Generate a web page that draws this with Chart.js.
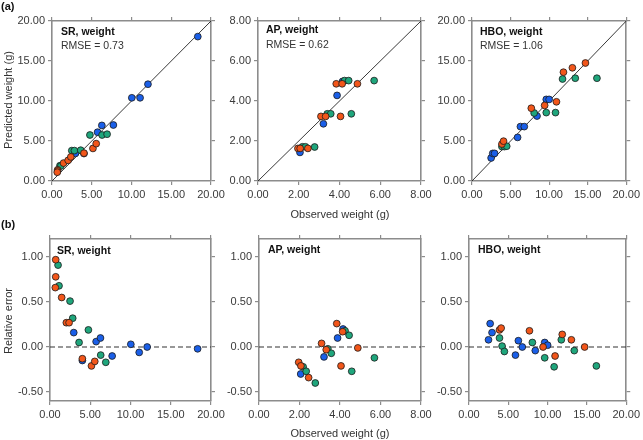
<!DOCTYPE html>
<html>
<head>
<meta charset="utf-8">
<script src="https://cdn.jsdelivr.net/npm/chart.js@4"></script>
<style>
  html, body { margin:0; padding:0; background:#fff; }
  #wrap { position:relative; width:643px; height:440px; overflow:hidden; font-family:"Liberation Sans", Arial, sans-serif; color:#333; }
  canvas { position:absolute; left:0; top:0; }
  .t { position:absolute; white-space:nowrap; line-height:1; }
  .b { font-weight:bold; color:#111; }
</style>
</head>
<body>
<div id="wrap"></div>
<script>
// ---------------- DATA ----------------
// SR panel
const srBlueObs   = [2.95, 4.02, 5.73, 6.27, 7.72, 10.04, 11.08, 12.07, 18.34];
const srBluePred  = [3.45, 3.43, 6.10, 6.95, 7.00, 10.40, 10.40, 12.10, 18.05];
const srBlueErr   = [0.16, -0.15, 0.06, 0.10, -0.10, 0.03, -0.06, 0.00, -0.02];
const srGreenObs  = [1.00, 1.12, 2.49, 2.82, 3.61, 4.77, 6.30, 6.93];
const srGreenPred = [1.91, 1.88, 3.80, 3.80, 3.85, 5.75, 5.75, 5.85];
const srGreenErr  = [0.91, 0.68, 0.51, 0.32, 0.05, 0.19, -0.09, -0.17];
const srOrangeObs = [0.71, 0.71, 0.66, 1.45, 2.03, 2.37, 4.02, 5.15, 5.56];
const srOrangePred= [1.40, 1.26, 1.10, 2.24, 2.58, 3.01, 3.48, 4.07, 4.67];
const srOrangeErr = [0.97, 0.78, 0.66, 0.55, 0.27, 0.27, -0.13, -0.21, -0.16];

// AP panel
const apBlueObs   = [2.06, 3.21, 3.88, 4.15];
const apBluePred  = [1.43, 2.86, 4.28, 4.98];
const apBlueErr   = [-0.30, -0.11, 0.10, 0.20];
const apGreenObs  = [2.18, 2.33, 2.78, 3.40, 3.57, 4.58, 4.25, 4.45, 5.70];
const apGreenPred = [1.71, 1.71, 1.70, 3.36, 3.36, 3.36, 5.02, 5.02, 5.02];
const apGreenErr  = [-0.22, -0.27, -0.40, -0.02, -0.07, -0.27, 0.18, 0.13, -0.12];
const apOrangeObs = [1.96, 2.07, 2.45, 3.09, 3.32, 4.05, 3.84, 4.13, 4.88];
const apOrangePred= [1.63, 1.63, 1.63, 3.23, 3.23, 3.23, 4.86, 4.86, 4.86];
const apOrangeErr = [-0.17, -0.21, -0.34, 0.04, -0.03, -0.21, 0.26, 0.17, -0.01];

// HBO panel
const hboBlueObs   = [2.48, 2.69, 2.93, 5.91, 6.28, 6.78, 8.43, 9.63, 10.00];
const hboBluePred  = [2.88, 3.45, 3.45, 5.45, 6.80, 6.80, 8.12, 10.20, 10.20];
const hboBlueErr   = [0.08, 0.26, 0.16, -0.09, 0.07, 0.00, -0.04, 0.05, 0.02];
const hboGreenObs  = [3.88, 4.21, 4.50, 8.06, 9.63, 10.83, 11.74, 13.39, 16.20];
const hboGreenPred = [4.30, 4.30, 4.35, 8.50, 8.55, 8.55, 12.75, 12.85, 12.85];
const hboGreenErr  = [0.10, 0.01, -0.05, 0.05, -0.12, -0.22, 0.08, -0.04, -0.21];
const hboOrangeObs = [3.88, 4.09, 7.69, 9.42, 10.95, 11.86, 13.02, 14.71];
const hboOrangePred= [4.62, 4.98, 9.10, 9.45, 9.90, 13.60, 14.15, 14.75];
const hboOrangeErr = [0.19, 0.21, 0.18, 0.00, -0.10, 0.14, 0.08, 0.00];

// Tick labels / axis ranges
const ticks20  = [0, 5, 10, 15, 20];
const ticks8   = [0, 2, 4, 6, 8];
const ticksErr = [-0.5, 0, 0.5, 1.0];
const errRange = [-0.6, 1.2];

const panelTitles = ["SR, weight", "AP, weight", "HBO, weight"];
const rmseLabels  = ["RMSE = 0.73", "RMSE = 0.62", "RMSE = 1.06"];

// ---------------- STYLE ----------------
const COL_BLUE = "#1a5fe8", COL_GREEN = "#1fa67c", COL_ORANGE = "#f2561a";
const FRAME = "#8c8c8c";
const FONT = "'Liberation Sans', Arial, sans-serif";

const wrap = document.getElementById("wrap");
function text(str, x, y, size, cls, extra) {
  const d = document.createElement("div");
  d.className = "t " + (cls || "");
  d.textContent = str;
  d.style.fontSize = size + "px";
  d.style.left = x + "px";
  d.style.top = y + "px";
  if (extra) Object.assign(d.style, extra);
  wrap.appendChild(d);
  return d;
}

function pts(xs, ys) { return xs.map((x, i) => ({ x: x, y: ys[i] })); }

function axis(pos, min, max, tickVals, showLabels, size) {
  const vertical = (pos === "left" || pos === "right");
  return {
    type: "linear", position: pos, min: min, max: max,
    afterBuildTicks: s => { s.ticks = tickVals.map(v => ({ value: v })); },
    afterFit: s => { if (vertical) s.width = size; else s.height = size; },
    ticks: {
      display: showLabels, autoSkip: false, maxRotation: 0, padding: 3,
      font: { family: FONT, size: 11 }, color: "#3a3a3a",
      callback: v => Number(v).toFixed(2)
    },
    grid: { display: true, drawOnChartArea: false, drawTicks: true, tickLength: 4, color: FRAME, lineWidth: 1.2 },
    border: { display: true, color: FRAME, width: 1.6 }
  };
}

function scatterDs(data, color, order) {
  return {
    type: "scatter", data: data, order: order,
    backgroundColor: color, borderColor: "#1b1b1b", borderWidth: 0.8,
    pointRadius: 3.4, pointHoverRadius: 3.4
  };
}

function panel(area, xr, xt, yr, yt, series, refLine, dashed) {
  const c = document.createElement("canvas");
  c.width = 643; c.height = 440;
  wrap.appendChild(c);
  const wy = 44, hx = 22, wy2 = 6, hx2 = 6;
  const ds = [
    {
      type: "line", data: refLine, order: 10, borderColor: dashed ? "#333" : "#222",
      borderWidth: dashed ? 1.2 : 0.9, borderDash: dashed ? [5, 3] : [],
      pointRadius: 0, fill: false, tension: 0
    },
    scatterDs(series[0], COL_BLUE, 3),
    scatterDs(series[1], COL_GREEN, 2),
    scatterDs(series[2], COL_ORANGE, 1)
  ];
  new Chart(c, {
    type: "scatter",
    data: { datasets: ds },
    options: {
      responsive: false, animation: false, devicePixelRatio: 1,
      layout: { padding: { left: area.l - wy, right: 643 - area.r - wy2, top: area.t - hx2, bottom: 440 - area.b - hx } },
      plugins: { legend: { display: false }, tooltip: { enabled: false } },
      events: [],
      scales: {
        x:  axis("bottom", xr[0], xr[1], xt, true, hx),
        x2: axis("top",    xr[0], xr[1], xt, false, hx2),
        y:  axis("left",   yr[0], yr[1], yt, true, wy),
        y2: axis("right",  yr[0], yr[1], yt, false, wy2)
      }
    }
  });
}

const areasA = [{ l: 52, r: 211, t: 21, b: 181 }, { l: 258, r: 421, t: 21, b: 181 }, { l: 472, r: 631, t: 21, b: 181 }];
const areasB = [{ l: 50, r: 211, t: 239, b: 401 }, { l: 259, r: 421, t: 239, b: 401 }, { l: 469, r: 631, t: 239, b: 401 }];

// (a) predicted vs observed
panel(areasA[0], [0, 20], ticks20, [0, 20], ticks20,
  [pts(srBlueObs, srBluePred), pts(srGreenObs, srGreenPred), pts(srOrangeObs, srOrangePred)],
  pts([0, 20], [0, 20]), false);
panel(areasA[1], [0, 8], ticks8, [0, 8], ticks8,
  [pts(apBlueObs, apBluePred), pts(apGreenObs, apGreenPred), pts(apOrangeObs, apOrangePred)],
  pts([0, 8], [0, 8]), false);
panel(areasA[2], [0, 20], ticks20, [0, 20], ticks20,
  [pts(hboBlueObs, hboBluePred), pts(hboGreenObs, hboGreenPred), pts(hboOrangeObs, hboOrangePred)],
  pts([0, 20], [0, 20]), false);

// (b) relative error
panel(areasB[0], [0, 20], ticks20, errRange, ticksErr,
  [pts(srBlueObs, srBlueErr), pts(srGreenObs, srGreenErr), pts(srOrangeObs, srOrangeErr)],
  pts([0, 20], [0, 0]), true);
panel(areasB[1], [0, 8], ticks8, errRange, ticksErr,
  [pts(apBlueObs, apBlueErr), pts(apGreenObs, apGreenErr), pts(apOrangeObs, apOrangeErr)],
  pts([0, 8], [0, 0]), true);
panel(areasB[2], [0, 20], ticks20, errRange, ticksErr,
  [pts(hboBlueObs, hboBlueErr), pts(hboGreenObs, hboGreenErr), pts(hboOrangeObs, hboOrangeErr)],
  pts([0, 20], [0, 0]), true);

// ---------------- TEXT ----------------
text("(a)", 1, 1, 11, "b");
text("(b)", 1, 219, 11, "b");

const rot = { transform: "translate(-50%,-50%) rotate(-90deg)" };
const cen = { transform: "translate(-50%,-50%)" };
text("Predicted weight (g)", 8, 100, 11, "", rot);
text("Relative error", 8, 321, 11, "", rot);
text("Observed weight (g)", 340, 214, 11, "", cen);
text("Observed weight (g)", 340, 433, 11, "", cen);

const titleA = [[61, 30.5, 45], [266, 28.5, 44], [480, 30.5, 45]];
const titleB = [[57, 249.5], [268, 249], [478, 249]];
const tmid = { transform: "translateY(-50%)" };
for (let i = 0; i < 3; i++) {
  text(panelTitles[i], titleA[i][0], titleA[i][1], 10.5, "b", tmid);
  text(rmseLabels[i], titleA[i][0], titleA[i][2], 10.5, "", tmid);
  text(panelTitles[i], titleB[i][0], titleB[i][1], 10.5, "b", tmid);
}
</script>
</body>
</html>
